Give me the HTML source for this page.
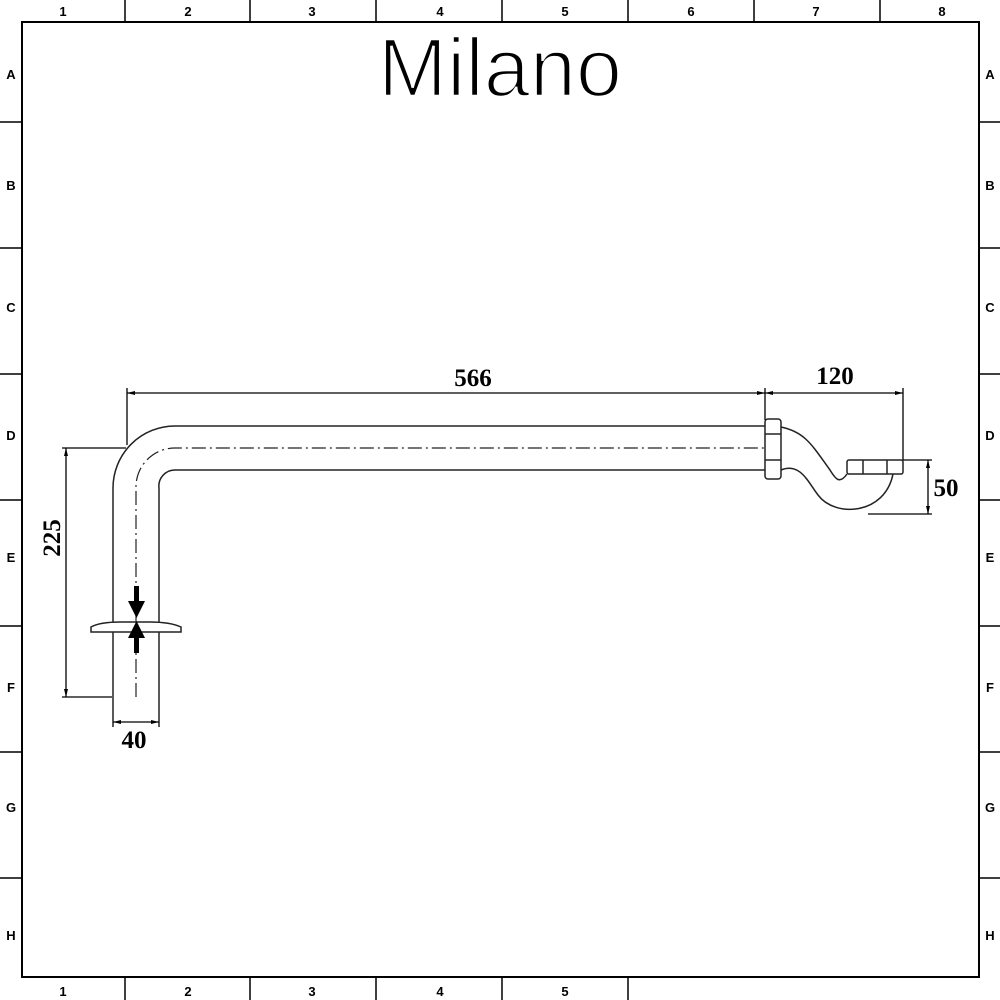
<!DOCTYPE html>
<html><head><style>
html,body{margin:0;padding:0;background:#fff;}
svg{display:block;}
</style></head><body>
<svg width="1000" height="1000" viewBox="0 0 1000 1000" xmlns="http://www.w3.org/2000/svg">
<rect x="0" y="0" width="1000" height="1000" fill="#fff"/>
<rect x="22" y="22" width="957" height="955" fill="none" stroke="#000" stroke-width="2"/>
<g stroke="#000" stroke-width="1.5">
<line x1="125" y1="0" x2="125" y2="22"/><line x1="250" y1="0" x2="250" y2="22"/><line x1="376" y1="0" x2="376" y2="22"/><line x1="502" y1="0" x2="502" y2="22"/><line x1="628" y1="0" x2="628" y2="22"/><line x1="754" y1="0" x2="754" y2="22"/><line x1="880" y1="0" x2="880" y2="22"/>
<line x1="125" y1="977" x2="125" y2="1000"/><line x1="250" y1="977" x2="250" y2="1000"/><line x1="376" y1="977" x2="376" y2="1000"/><line x1="502" y1="977" x2="502" y2="1000"/><line x1="628" y1="977" x2="628" y2="1000"/>
<line x1="0" y1="122" x2="22" y2="122"/><line x1="0" y1="248" x2="22" y2="248"/><line x1="0" y1="374" x2="22" y2="374"/><line x1="0" y1="500" x2="22" y2="500"/><line x1="0" y1="626" x2="22" y2="626"/><line x1="0" y1="752" x2="22" y2="752"/><line x1="0" y1="878" x2="22" y2="878"/>
<line x1="979" y1="122" x2="1000" y2="122"/><line x1="979" y1="248" x2="1000" y2="248"/><line x1="979" y1="374" x2="1000" y2="374"/><line x1="979" y1="500" x2="1000" y2="500"/><line x1="979" y1="626" x2="1000" y2="626"/><line x1="979" y1="752" x2="1000" y2="752"/><line x1="979" y1="878" x2="1000" y2="878"/>
</g>
<g font-family="Liberation Sans, sans-serif" font-size="13" font-weight="bold" text-anchor="middle" fill="#000">
<text x="63" y="16">1</text><text x="188" y="16">2</text><text x="312" y="16">3</text><text x="440" y="16">4</text><text x="565" y="16">5</text><text x="691" y="16">6</text><text x="816" y="16">7</text><text x="942" y="16">8</text>
<text x="63" y="996">1</text><text x="188" y="996">2</text><text x="312" y="996">3</text><text x="440" y="996">4</text><text x="565" y="996">5</text>
<text x="11" y="79">A</text><text x="11" y="190">B</text><text x="11" y="312">C</text><text x="11" y="440">D</text><text x="11" y="562">E</text><text x="11" y="692">F</text><text x="11" y="812">G</text><text x="11" y="940">H</text>
<text x="990" y="79">A</text><text x="990" y="190">B</text><text x="990" y="312">C</text><text x="990" y="440">D</text><text x="990" y="562">E</text><text x="990" y="692">F</text><text x="990" y="812">G</text><text x="990" y="940">H</text>
</g>
<text x="378" y="96" font-family="Liberation Sans, sans-serif" font-size="83" textLength="244" lengthAdjust="spacingAndGlyphs" fill="#000" stroke="#fff" stroke-width="2.5" paint-order="normal">Milano</text>
<g fill="none" stroke="#222" stroke-width="1.5">
<path d="M113 697 V488 A62 62 0 0 1 175 426 H765"/>
<path d="M159 697 V488 A16 16 0 0 1 175 470 H765"/>
<path d="M136 697 V488 A39 39 0 0 1 175 448 H765" stroke-dasharray="14 4 2 4" stroke-width="1.2"/>
<path d="M91 632 H181 V627 Q170 622 150 622 H120 Q100 622 91 627 Z" fill="#fff"/>
<rect x="765" y="419" width="16" height="60" rx="3" fill="#fff"/>
<line x1="765" y1="434" x2="781" y2="434"/><line x1="765" y1="460" x2="781" y2="460"/>
<path d="M781 427 C805 432 812 445 830 470 C836 480 840 484 847 474"/>
<path d="M781 470 C800 462 808 482 818 495 C835 518 885 515 893 474"/>
<rect x="847" y="460" width="56" height="14" rx="2" fill="#fff"/>
<line x1="863" y1="460" x2="863" y2="474"/><line x1="887" y1="460" x2="887" y2="474"/>
</g>
<g stroke="#000" stroke-width="1.3" fill="none">
<line x1="127" y1="388" x2="127" y2="445"/>
<line x1="765" y1="388" x2="765" y2="420"/>
<line x1="903" y1="388" x2="903" y2="460"/>
<line x1="127" y1="393" x2="903" y2="393"/>
<line x1="62" y1="448" x2="126" y2="448"/>
<line x1="62" y1="697" x2="112" y2="697"/>
<line x1="66" y1="448" x2="66" y2="697"/>
<line x1="113" y1="697" x2="113" y2="727"/>
<line x1="159" y1="697" x2="159" y2="727"/>
<line x1="113" y1="722" x2="159" y2="722"/>
<line x1="903" y1="460" x2="932" y2="460"/>
<line x1="868" y1="514" x2="932" y2="514"/>
<line x1="928" y1="460" x2="928" y2="514"/>
</g>
<g fill="#000">
<path d="M127 393 l8 -2 v4 z"/><path d="M765 393 l-8 -2 v4 z"/><path d="M765 393 l8 -2 v4 z"/><path d="M903 393 l-8 -2 v4 z"/>
<path d="M66 448 l-2 8 h4 z"/><path d="M66 697 l-2 -8 h4 z"/>
<path d="M113 722 l8 -2 v4 z"/><path d="M159 722 l-8 -2 v4 z"/>
<path d="M928 460 l-2 8 h4 z"/><path d="M928 514 l-2 -8 h4 z"/>
<rect x="134" y="586" width="5" height="16"/><path d="M128 601 h17 l-8.5 17 z"/>
<rect x="134" y="637" width="5" height="16"/><path d="M128 638 h17 l-8.5 -17 z"/>
</g>
<g font-family="Liberation Serif, serif" font-weight="bold" font-size="25" fill="#000" text-anchor="middle">
<text x="473" y="386">566</text>
<text x="835" y="384">120</text>
<text x="946" y="496">50</text>
<text x="134" y="748">40</text>
<text transform="translate(60 538) rotate(-90)">225</text>
</g>
</svg>
</body></html>
